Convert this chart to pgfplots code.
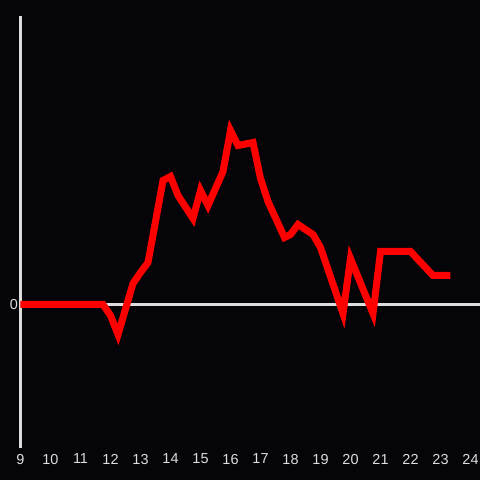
\documentclass[border=0pt]{standalone}
\usepackage{fontspec}
\setmainfont{Liberation Sans}
\usepackage{pgfplots}
\pgfplotsset{compat=1.18}
\definecolor{bg}{HTML}{050408}
\definecolor{axisgray}{HTML}{DDDDDD}
\definecolor{linered}{HTML}{FF0000}

\begin{document}
\begin{tikzpicture}
\fill[bg] (0,0) rectangle (480bp,480bp);
\useasboundingbox (0,0) rectangle (480bp,480bp);
\begin{axis}[
  at={(20.5bp,31.5bp)}, anchor=south west,
  width=460bp, height=432.5bp, scale only axis,
  xmin=9, xmax=24.333, ymin=-144, ymax=288.5,
  axis x line*=bottom, axis y line*=left,
  x axis line style={draw=none},
  y axis line style={axisgray, line width=3bp},
  xtick={9,...,24}, ytick={0},
  major tick length=0pt,
  ymajorgrids, grid style={axisgray, line width=3bp},
  tick label style={font=\fontsize{14.5}{16}\selectfont, text=axisgray},
  /pgf/number format/assume math mode=true,
  xticklabel style={yshift=-2pt},
  yticklabel style={xshift=1pt},
  clip=false,
]
\addplot[linered, line width=7bp, mark=none] coordinates {
(9,0) (11.75,0) (12.0,-11) (12.25,-30) (12.75,21) (13.0,32) (13.25,42)
(13.75,124) (14.0,128) (14.25,109) (14.75,86) (15.0,114) (15.25,99)
(15.75,133) (16.0,174) (16.25,159) (16.75,162) (17.0,126) (17.25,103)
(17.8,67) (18.0,70) (18.25,80) (18.75,70) (19.0,57) (19.75,-9)
(20.0,46) (20.75,-9) (21.0,53) (22.0,53) (22.75,29) (23.33,29)
};
\end{axis}
\end{tikzpicture}
\end{document}
